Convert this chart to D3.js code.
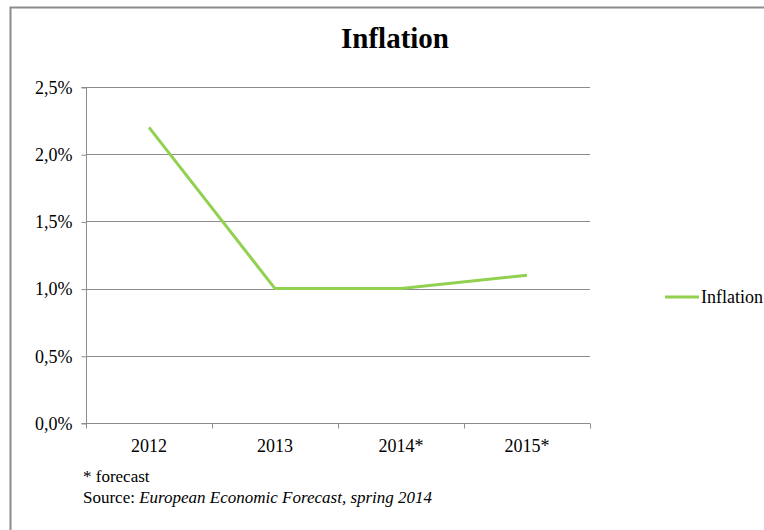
<!DOCTYPE html>
<html>
<head>
<meta charset="utf-8">
<script src="https://cdn.jsdelivr.net/npm/d3@7"></script>
<style>
  body { margin: 0; background: #fff; }
  text { font-family: "Liberation Serif", "Times New Roman", serif; fill: #000; }
</style>
</head>
<body>
<svg width="764" height="530"></svg>
<script>
// chart data
var years = ["2012", "2013", "2014*", "2015*"];
var inflation = [2.2, 1.0, 1.0, 1.1];
var yTicks = [0, 0.5, 1.0, 1.5, 2.0, 2.5];

var svg = d3.select("svg");

// outer frame (only top and left visible in the crop)
svg.append("path")
  .attr("d", "M10.5,530 V7.5 H764")
  .attr("fill", "none")
  .attr("stroke", "#8c8c8c")
  .attr("stroke-width", 2);

var margin = { left: 86, right: 590, top: 87, bottom: 423 };

var x = d3.scaleBand().domain(years).range([margin.left, margin.right]);
var y = d3.scaleLinear().domain([0, 2.5]).range([margin.bottom, margin.top]);

// gridlines
svg.append("g").selectAll("line")
  .data(yTicks.slice(1))
  .enter()
  .append("line")
  .attr("x1", margin.left)
  .attr("x2", margin.right)
  .attr("y1", function(d) { return Math.round(y(d)) + 0.5; })
  .attr("y2", function(d) { return Math.round(y(d)) + 0.5; })
  .attr("stroke", "#8c8c8c");

// y axis
var yAxis = svg.append("g")
  .attr("transform", "translate(" + (margin.left + 0.5) + ",0.5)")
  .call(d3.axisLeft(y).tickValues(yTicks).tickSize(5).tickPadding(9)
    .tickFormat(function(d) { return d.toFixed(1).replace(".", ",") + "%"; }));
yAxis.select(".domain").attr("stroke", "#8c8c8c").attr("d", "M-5," + margin.top + "H0V" + margin.bottom + "H-5");
yAxis.selectAll(".tick line").attr("stroke", "#8c8c8c");
yAxis.selectAll("text").style("font-family", "Liberation Serif").style("font-size", "18px").attr("fill", "#000");

// x axis
var xAxis = svg.append("g")
  .attr("transform", "translate(0," + (margin.bottom + 0.5) + ")");
xAxis.append("line")
  .attr("x1", margin.left).attr("x2", margin.right)
  .attr("stroke", "#8c8c8c");
xAxis.selectAll("line.tick")
  .data(years.concat(["end"]))
  .enter()
  .append("line")
  .attr("class", "tick")
  .attr("x1", function(d, i) { return (i < years.length ? x(d) : margin.right) + 0.5; })
  .attr("x2", function(d, i) { return (i < years.length ? x(d) : margin.right) + 0.5; })
  .attr("y1", 0).attr("y2", 5)
  .attr("stroke", "#8c8c8c");
xAxis.selectAll("text")
  .data(years)
  .enter()
  .append("text")
  .attr("x", function(d) { return x(d) + x.bandwidth() / 2; })
  .attr("y", 28)
  .attr("text-anchor", "middle")
  .style("font-size", "18px")
  .text(function(d) { return d; });

// series line
var line = d3.line()
  .x(function(d, i) { return x(years[i]) + x.bandwidth() / 2; })
  .y(function(d) { return y(d); });

svg.append("path")
  .datum(inflation)
  .attr("d", line)
  .attr("fill", "none")
  .attr("stroke", "#92d050")
  .attr("stroke-width", 3);

// title
svg.append("text")
  .attr("x", 395)
  .attr("y", 48)
  .attr("text-anchor", "middle")
  .style("font-size", "29px")
  .style("font-weight", "bold")
  .text("Inflation");

// legend
var legend = svg.append("g").attr("transform", "translate(665,297)");
legend.append("line")
  .attr("x1", 0).attr("x2", 34)
  .attr("stroke", "#92d050")
  .attr("stroke-width", 3);
legend.append("text")
  .attr("x", 36)
  .attr("y", 6)
  .style("font-size", "18px")
  .text("Inflation");

// footnotes
svg.append("text")
  .attr("x", 83)
  .attr("y", 482)
  .style("font-size", "17px")
  .text("* forecast");

var src = svg.append("text")
  .attr("x", 83)
  .attr("y", 503)
  .style("font-size", "17px");
src.append("tspan").text("Source: ");
src.append("tspan").style("font-style", "italic").text("European Economic Forecast, spring 2014");
</script>
</body>
</html>
